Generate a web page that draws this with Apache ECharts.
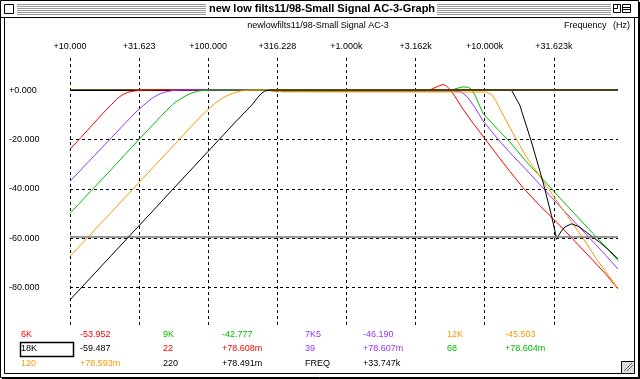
<!DOCTYPE html>
<html><head><meta charset="utf-8">
<script src="https://cdn.jsdelivr.net/npm/echarts@6/dist/echarts.min.js"></script>
<style>html,body{margin:0;padding:0;background:#fff}#c{width:640px;height:379px}</style>
</head><body><div id="c"></div>
<script>
// ---- data ----
const xTickLabels = ['+10.000','+31.623','+100.000','+316.228','+1.000k','+3.162k','+10.000k','+31.623k'];
const FMIN = 10, FMAX = 92150;

// high-pass traces
const hp22F  = [10,12,14,16,18,20,22,24,26,28,32,40,92150];
const hp22   = [-24.0,-19.2,-15.1,-11.5,-8.4,-5.8,-3.4,-1.9,-1.0,-0.5,-0.1,0.05,0.08];
const hp39F  = [10,12,15,20,25,30,33,36,40,44,48,55,65,92150];
const hp39   = [-37.0,-32.3,-26.6,-19.2,-13.5,-8.9,-6.8,-5.0,-3.0,-1.7,-0.9,-0.2,0.05,0.08];
const hp68F  = [10,15,20,25,31.6,40,45,50,55,60,68,75,85,100,92150];
const hp68   = [-50,-39.4,-32,-26.1,-20,-13.9,-10.9,-8.2,-6.0,-4.3,-2.5,-1.3,-0.4,0.03,0.08];
const hp120F = [10,15,20,30,40,50,62,75,90,100,110,120,135,150,170,200,92150];
const hp120  = [-67.4,-56.8,-49.3,-38.8,-31.3,-25.5,-19.9,-14.9,-10.2,-7.8,-5.8,-4.1,-2.4,-1.3,-0.4,0.0,0.08];
const hp220F = [10,15,20,30,40,55.8,70,100,130,160,190,210,225,240,255,275,92150];
const hp220  = [-85,-74.4,-66.9,-56.3,-48.8,-40,-34.1,-24.8,-17.9,-12.5,-8.2,-5.6,-3.4,-1.6,-0.5,0,0.08];

// low-pass traces
const lp6kF  = [10,250,350,3700,4100,4500,5000,5300,5600,6080,6800,8000,9000,10000,12000,15000,18900,25000,33780,45000,60000,75000,92150];
const lp6k   = [0,0,-0.6,-0.3,0.3,1.3,2.3,1.6,0.3,-2.5,-6.8,-12.5,-16.2,-19.6,-25.5,-32.5,-39.5,-46.8,-53.95,-61.3,-68.7,-74.5,-80.6];
const lp7k5F = [10,250,350,6000,6800,7500,8500,9740,12860,16000,20000,25000,33780,45000,60000,75000,92150];
const lp7k5  = [0,0,-0.5,-0.4,-0.8,-2.8,-7,-12.5,-20.8,-26.6,-32.3,-38.2,-46.19,-53.6,-61.1,-66.9,-72.5];
const lp9kF  = [10,250,350,5600,6200,6980,7600,8030,8500,9740,12000,15190,20000,27990,33780,45000,60780,75000,92150];
const lp9k   = [0,0,-0.5,-0.3,0.6,1.3,1.1,0.2,-2,-9.5,-15,-21,-29,-37.7,-42.78,-50.3,-58.1,-63.6,-69.1];
const lp12kF = [10,250,350,10300,11300,12000,12860,14000,16980,20000,27990,33780,43590,55000,64330,80000,92150];
const lp12k  = [0,0,-0.7,-0.8,-2,-4.2,-7.4,-11.5,-20,-27,-38.8,-45.5,-54.2,-62.4,-68.5,-75.5,-80.6];
const lp18kF = [10,15620,17940,21800,26440,30410,32500,33000,33780,35500,38000,42430,48000,54460,67960,80000,92150];
const lp18k  = [0,0,-6.1,-21,-37.3,-50.8,-58,-60.5,-59.49,-57.5,-55.5,-54.2,-55.3,-57.6,-61.7,-65,-68.4];

// cursor readouts
const cursorSel = -59.487;   // selected trace 18K
const cursorRef = 0.078;     // reference level
const legendRows = [
  [['6K','#ff0000'],['-53.952','#ff0000'],['9K','#00c000'],['-42.777','#00c000'],['7K5','#9933ff'],['-46.190','#9933ff'],['12K','#ff9900'],['-45.503','#ff9900']],
  [['18K','#000'],['-59.487','#000'],['22','#ff0000'],['+78.608m','#ff0000'],['39','#9933ff'],['+78.607m','#9933ff'],['68','#00c000'],['+78.604m','#00c000']],
  [['120','#ff9900'],['+78.593m','#ff9900'],['220','#000'],['+78.491m','#000'],['FREQ','#000'],['+33.747k','#000']]
];

// ---- chart ----
const FONT = "'Liberation Sans',Arial,sans-serif";
const zip = (f, v) => f.map((x, i) => [x, v[i]]);
const RED='#ff0000', GREEN='#00c000', PURPLE='#9933ff', ORANGE='#ff9900', BLACK='#000000';
function line(name, f, v, color, z) {
  return { name, type:'line', xAxisIndex:0, data: zip(f, v), showSymbol:false, symbol:'none',
    lineStyle:{ color, width:1 }, itemStyle:{color}, z, silent:true, animation:false };
}

const chart = echarts.init(document.getElementById('c'), null, {renderer:'canvas'});
const colX = [21, 80, 163, 222, 305, 363, 447, 505];
const rowY = [335, 349, 364];
const graphics = [];
// window chrome
graphics.push({type:'rect', shape:{x:0.5,y:0.5,width:638,height:377}, style:{fill:'#fff', stroke:'#000', lineWidth:1}, z:-10});
for (let i=0;i<6;i++){
  const y = 4.5 + i*2;
  graphics.push({type:'line', shape:{x1:17,y1:y,x2:206,y2:y}, style:{stroke:'#999', lineWidth:1}, z:-9});
  graphics.push({type:'line', shape:{x1:437,y1:y,x2:611,y2:y}, style:{stroke:'#999', lineWidth:1}, z:-9});
}
graphics.push({type:'rect', shape:{x:4.5,y:4.5,width:9,height:9}, style:{fill:'#fff', stroke:'#000', lineWidth:1}, z:-8});
graphics.push({type:'rect', shape:{x:613.5,y:4.5,width:7,height:8}, style:{fill:'#fff', stroke:'#000', lineWidth:1}, z:-8});
graphics.push({type:'rect', shape:{x:613.5,y:4.5,width:4,height:4}, style:{fill:'none', stroke:'#000', lineWidth:1}, z:-8});
graphics.push({type:'rect', shape:{x:622.5,y:4.5,width:8,height:8}, style:{fill:'#fff', stroke:'#000', lineWidth:1}, z:-8});
graphics.push({type:'line', shape:{x1:622.5,y1:7.5,x2:630.5,y2:7.5}, style:{stroke:'#000', lineWidth:1}, z:-8});
graphics.push({type:'line', shape:{x1:622.5,y1:9.5,x2:630.5,y2:9.5}, style:{stroke:'#000', lineWidth:1}, z:-8});
graphics.push({type:'line', shape:{x1:0,y1:17.5,x2:639,y2:17.5}, style:{stroke:'#000', lineWidth:1}, z:-8});
graphics.push({type:'rect', shape:{x:4.5,y:17.5,width:630,height:356}, style:{fill:'#fff', stroke:'#000', lineWidth:1}, z:-8});
graphics.push({type:'line', shape:{x1:639.5,y1:2,x2:639.5,y2:379}, style:{stroke:'#000', lineWidth:1}, z:-8});
graphics.push({type:'line', shape:{x1:2,y1:378.5,x2:640,y2:378.5}, style:{stroke:'#000', lineWidth:1}, z:-8});
// grow box
graphics.push({type:'rect', shape:{x:621.5,y:361.5,width:13,height:12}, style:{fill:'#ddd', stroke:'#000', lineWidth:1}, z:-7});
graphics.push({type:'line', shape:{x1:624,y1:371,x2:632,y2:363}, style:{stroke:'#666', lineWidth:1}, z:-7});
graphics.push({type:'line', shape:{x1:627,y1:371,x2:633,y2:365}, style:{stroke:'#666', lineWidth:1}, z:-7});
// titles
graphics.push({type:'text', x:322, y:9, style:{text:'new low filts11/98-Small Signal AC-3-Graph', font:"bold 11px "+FONT, fill:'#000', align:'center', verticalAlign:'middle'}, z:-5});
graphics.push({type:'text', x:318, y:26, style:{text:'newlowfilts11/98-Small Signal AC-3', font:"9px "+FONT, fill:'#000', align:'center', verticalAlign:'middle'}, z:-5});
graphics.push({type:'text', x:564, y:26, style:{text:'Frequency', font:"9px "+FONT, fill:'#000', align:'left', verticalAlign:'middle'}, z:-5});
graphics.push({type:'text', x:613, y:26, style:{text:'(Hz)', font:"9px "+FONT, fill:'#000', align:'left', verticalAlign:'middle'}, z:-5});
// legend readouts
legendRows.forEach((row, r) => row.forEach((cell, c) => {
  graphics.push({type:'text', x:colX[c], y:rowY[r], style:{text:cell[0], font:"9px "+FONT, fill:cell[1], align:'left', verticalAlign:'middle'}});
}));
graphics.push({type:'rect', shape:{x:20.5,y:342.5,width:53,height:14}, style:{fill:'none', stroke:'#000', lineWidth:1.5}});

const dash = [3,3];
chart.setOption({
  animation:false,
  backgroundColor:'#fff',
  grid:{ left:70, top:58, width:548, height:269, containLabel:false },
  xAxis:[
    { type:'log', logBase:10, min:FMIN, max:FMAX, show:true,
      axisLine:{show:false}, axisTick:{show:false}, axisLabel:{show:false}, splitLine:{show:false} },
    { type:'value', position:'top', min:Math.log10(FMIN), max:Math.log10(FMAX), interval:0.5,
      axisLine:{show:false}, axisTick:{show:false},
      axisLabel:{ show:true, margin:7, color:'#000', fontFamily:FONT, fontSize:9, showMaxLabel:false,
        formatter:(v)=>{ const i=Math.round((v-1)/0.5); return (Math.abs((v-1)/0.5-i)<1e-6 && xTickLabels[i]) ? xTickLabels[i] : ''; } },
      splitLine:{ show:true, showMaxLine:false, lineStyle:{ color:'#000', width:1, type:dash } } }
  ],
  yAxis:{ type:'value', min:-96, max:13, splitNumber:5,
    axisLine:{show:false}, axisTick:{show:false},
    axisLabel:{ show:true, align:'left', margin:61, color:'#000', fontFamily:FONT, fontSize:9, showMinLabel:false, showMaxLabel:false,
      formatter:(v)=> (v>=0?'+':'') + v.toFixed(3) },
    splitLine:{ show:true, showMinLine:false, showMaxLine:false, lineStyle:{ color:'#000', width:1, type:dash } } },
  graphic: graphics,
  series:[
    line('6K', lp6kF, lp6k, RED, 2),
    line('7K5', lp7k5F, lp7k5, PURPLE, 2),
    line('9K', lp9kF, lp9k, GREEN, 2),
    line('12K', lp12kF, lp12k, ORANGE, 2),
    line('18K', lp18kF, lp18k, BLACK, 2),
    { type:'line', xAxisIndex:0, data:[], z:3, silent:true,
      markLine:{ silent:true, symbol:'none', z:3, label:{show:false}, animation:false,
        data:[ { yAxis:cursorRef, lineStyle:{color:'#000', width:1, type:'solid'} },
               { yAxis:cursorSel, lineStyle:{color:'#777', width:1.5, type:'solid'} } ] } },
    line('22', hp22F, hp22, RED, 4),
    line('39', hp39F, hp39, PURPLE, 4),
    line('68', hp68F, hp68, GREEN, 4),
    line('120', hp120F, hp120, ORANGE, 4),
    line('220', hp220F, hp220, BLACK, 4)
  ]
});
</script></body></html>
